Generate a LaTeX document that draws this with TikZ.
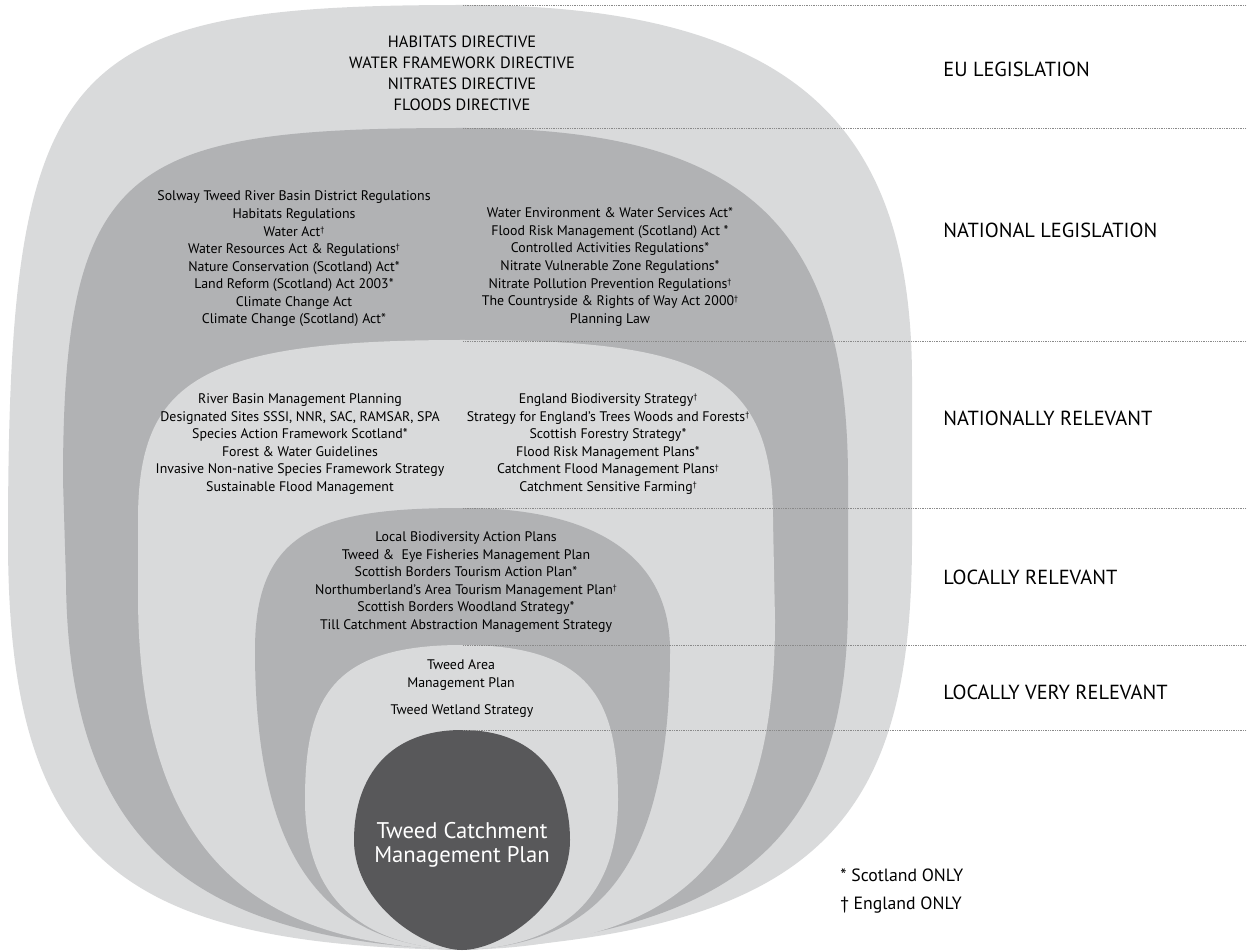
\documentclass[tikz,border=0pt]{standalone}
\usepackage{fontspec}
\setmainfont{PT Sans}
\definecolor{bandlight}{HTML}{D9DADB}
\definecolor{bandmid}{HTML}{B1B2B4}
\definecolor{core}{HTML}{58585A}
\definecolor{rulegray}{HTML}{8A8A8A}
\newcommand{\eng}{\raisebox{0.55ex}{\fontsize{4.6}{5}\selectfont †}}
\begin{document}
\begin{tikzpicture}[x=0.02cm,y=-0.02cm,
    body/.style={align=center,inner sep=0pt,font=\fontsize{7.9}{10}\selectfont},
    eulist/.style={align=center,inner sep=0pt,font=\fontsize{9.3}{11.9}\selectfont},
    level/.style={anchor=west,inner sep=0pt,font=\fontsize{11.6}{13}\selectfont},
    legend/.style={anchor=west,inner sep=0pt,font=\fontsize{10.1}{11}\selectfont},
    guide/.style={rulegray,line width=0.5pt,dash pattern=on 0.5pt off 0.5pt}]
  \useasboundingbox (0,0) rectangle (1247,952);

  \coordinate (b0) at (462,950);

  \fill [bandlight] (b0) .. controls (120,945) and (8,860) .. (8,540)
    .. controls (8,60) and (60,5) .. (463,5)
    .. controls (800,5) and (912,130) .. (912,380) -- (912,540)
    .. controls (912,820) and (820,930) .. (b0) -- cycle;

  \fill [bandmid] (b0) .. controls (200,940) and (68,850) .. (66,580) -- (63,480)
    .. controls (63,160) and (130,128) .. (463,128)
    .. controls (740,128) and (848,220) .. (848,480) -- (848,600)
    .. controls (848,820) and (760,930) .. (b0) -- cycle;

  \fill [bandlight] (b0) .. controls (260,945) and (140,860) .. (138,600) -- (138,520)
    .. controls (138,380) and (200,340) .. (463,340)
    .. controls (700,340) and (773,370) .. (773,520) -- (775,620)
    .. controls (775,860) and (680,945) .. (b0) -- cycle;

  \fill [bandmid] (b0) .. controls (340,945) and (255,880) .. (255,650)
    .. controls (255,530) and (320,508) .. (463,508)
    .. controls (600,508) and (670,560) .. (670,650)
    .. controls (670,880) and (590,945) .. (b0) -- cycle;

  \fill [bandlight] (b0) .. controls (390,948) and (305,920) .. (305,800)
    .. controls (305,700) and (330,645) .. (462,645)
    .. controls (590,645) and (618,700) .. (618,800)
    .. controls (618,920) and (535,948) .. (b0) -- cycle;

  \fill [core] (462,730) .. controls (382,730) and (354,785) .. (354,840)
    .. controls (354,905) and (425,950) .. (b0)
    .. controls (500,950) and (570,905) .. (570,840)
    .. controls (570,785) and (542,730) .. (462,730) -- cycle;

  \coordinate (g0) at (463,5);
  \coordinate (g1) at (463,128);
  \coordinate (g2) at (463,341);
  \coordinate (g3) at (463,508);
  \coordinate (g4) at (463,645);
  \coordinate (g5) at (463,730);

  \draw [guide] (g0) -- (g0 -| 1247,0);
  \draw [guide] (g1) -- (g1 -| 1247,0);
  \draw [guide] (g2) -- (g2 -| 1247,0);
  \draw [guide] (g3) -- (g3 -| 1247,0);
  \draw [guide] (g4) -- (g4 -| 1247,0);
  \draw [guide] (g5) -- (g5 -| 1247,0);

  \node [eulist] (eu) at (462,73) {HABITATS DIRECTIVE\\WATER FRAMEWORK DIRECTIVE\\
    NITRATES DIRECTIVE\\FLOODS DIRECTIVE};

  \node [body] (natleft) at (294,259) {Solway Tweed River Basin District Regulations\\
    Habitats Regulations\\Water Act\eng\\Water Resources Act \& Regulations\eng\\
    Nature Conservation (Scotland) Act*\\Land Reform (Scotland) Act 2003*\\
    Climate Change Act\\Climate Change (Scotland) Act*};

  \node [body] (natright) at (610,267) {Water Environment \& Water Services Act*\\
    Flood Risk Management (Scotland) Act *\\Controlled Activities Regulations*\\
    Nitrate Vulnerable Zone Regulations*\\Nitrate Pollution Prevention Regulations\eng\\
    The Countryside \& Rights of Way Act 2000\eng\\Planning Law};

  \node [body] (relleft) at (300,444) {River Basin Management Planning\\
    Designated Sites SSSI, NNR, SAC, RAMSAR, SPA\\Species Action Framework Scotland*\\
    Forest \& Water Guidelines\\Invasive Non-native Species Framework Strategy\\
    Sustainable Flood Management};

  \node [body] (relright) at (608,444) {England Biodiversity Strategy\eng\\
    Strategy for England’s Trees Woods and Forests\eng\\Scottish Forestry Strategy*\\
    Flood Risk Management Plans*\\Catchment Flood Management Plans\eng\\
    Catchment Sensitive Farming\eng};

  \node [body] (local) at (466,582) {Local Biodiversity Action Plans\\
    Tweed \& \ Eye Fisheries Management Plan\\Scottish Borders Tourism Action Plan*\\
    Northumberland’s Area Tourism Management Plan\eng\\Scottish Borders Woodland Strategy*\\
    Till Catchment Abstraction Management Strategy};

  \node [body] (tap) at (461,675) {Tweed Area\\Management Plan};
  \node [body] (wet) at (462,711) {Tweed Wetland Strategy};

  \node [align=center,inner sep=0pt,text=white,font=\fontsize{12.9}{13.8}\selectfont]
    (tcmp) at (462,845) {Tweed Catchment\\Management Plan};

  \node [level] (lv1) at (943,69) {EU LEGISLATION};
  \node [level] (lv2) at (943,230) {NATIONAL LEGISLATION};
  \node [level] (lv3) at (943,418) {NATIONALLY RELEVANT};
  \node [level] (lv4) at (943,577) {LOCALLY RELEVANT};
  \node [level] (lv5) at (943,692) {LOCALLY VERY RELEVANT};

  \node [legend] (sco) at (840,875) {* Scotland ONLY};
  \node [legend] (eng) at (840,905) {† England ONLY};
\end{tikzpicture}
\end{document}
